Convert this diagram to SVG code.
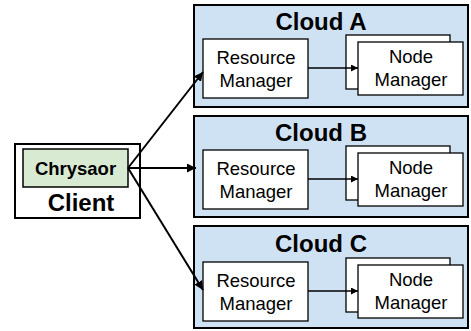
<svg xmlns="http://www.w3.org/2000/svg" width="471" height="331" viewBox="0 0 471 331">
<defs>
<style>
.cloud{fill:#cfe2f3;stroke:#000;stroke-width:2}
.box{fill:#fff;stroke:#000;stroke-width:1.3}
.t{font-family:"Liberation Sans",Arial,sans-serif;font-size:18.5px;text-anchor:middle;fill:#000}
.h{font-family:"Liberation Sans",Arial,sans-serif;font-size:24px;font-weight:bold;text-anchor:middle;fill:#000}
.ln{stroke:#000;fill:none}
</style>
<marker id="ab" viewBox="0 0 10 10" refX="10" refY="5" markerWidth="4.5" markerHeight="4.5" orient="auto" markerUnits="strokeWidth">
<path d="M0,0 L10,5 L0,10 z" fill="#000"/>
</marker>
<marker id="as" viewBox="0 0 10 10" refX="10" refY="5" markerWidth="8" markerHeight="7" orient="auto" markerUnits="userSpaceOnUse">
<path d="M0,0 L10,5 L0,10 z" fill="#000"/>
</marker>
</defs>
<g id="client">
<rect x="15" y="144" width="125" height="74" fill="#fff" stroke="#000" stroke-width="2"/>
<rect x="23" y="149" width="105" height="38" fill="#d9ead3" stroke="#000" stroke-width="1.5"/>
<text x="75.5" y="175" class="t" font-weight="bold" font-size="19">Chrysaor</text>
<text x="81" y="211" class="h" font-size="25">Client</text>
</g>
<g id="cloudA">
<rect class="cloud" x="194" y="5" width="274" height="102"/>
<text class="h" x="321" y="30">Cloud A</text>
<g id="rmA"><rect class="box" x="203" y="39" width="105" height="59"/>
<text class="t" x="256" y="64">Resource</text><text class="t" x="256" y="87">Manager</text></g>
<g id="nmA"><rect class="box" x="346" y="35" width="104" height="54"/>
<rect class="box" x="358" y="42" width="105" height="53"/>
<text class="t" x="411" y="63">Node</text><text class="t" x="411" y="86">Manager</text></g>
</g>
<g id="cloudB">
<rect class="cloud" x="194" y="116" width="274" height="101"/>
<text class="h" x="321" y="141">Cloud B</text>
<g id="rmB"><rect class="box" x="203" y="150" width="105" height="59"/>
<text class="t" x="256" y="175">Resource</text><text class="t" x="256" y="198">Manager</text></g>
<g id="nmB"><rect class="box" x="346" y="146" width="104" height="54"/>
<rect class="box" x="358" y="153" width="105" height="53"/>
<text class="t" x="411" y="174">Node</text><text class="t" x="411" y="197">Manager</text></g>
</g>
<g id="cloudC">
<rect class="cloud" x="194" y="226" width="274" height="102"/>
<text class="h" x="321" y="252">Cloud C</text>
<g id="rmC"><rect class="box" x="203" y="262" width="105" height="59"/>
<text class="t" x="256" y="287">Resource</text><text class="t" x="256" y="310">Manager</text></g>
<g id="nmC"><rect class="box" x="346" y="258" width="104" height="54"/>
<rect class="box" x="358" y="265" width="105" height="53"/>
<text class="t" x="411" y="286">Node</text><text class="t" x="411" y="309">Manager</text></g>
</g>
<g id="connectors">
<line class="ln" stroke-width="2" x1="128" y1="168" x2="203" y2="72" marker-end="url(#ab)"/>
<line class="ln" stroke-width="2" x1="128" y1="168" x2="196" y2="168" marker-end="url(#ab)"/>
<line class="ln" stroke-width="2" x1="128" y1="168" x2="203" y2="290" marker-end="url(#ab)"/>
<line class="ln" stroke-width="1.3" x1="308" y1="68" x2="358" y2="68" marker-end="url(#as)"/>
<line class="ln" stroke-width="1.3" x1="308" y1="179" x2="358" y2="179" marker-end="url(#as)"/>
<line class="ln" stroke-width="1.3" x1="308" y1="291" x2="358" y2="291" marker-end="url(#as)"/>
</g>
</svg>
